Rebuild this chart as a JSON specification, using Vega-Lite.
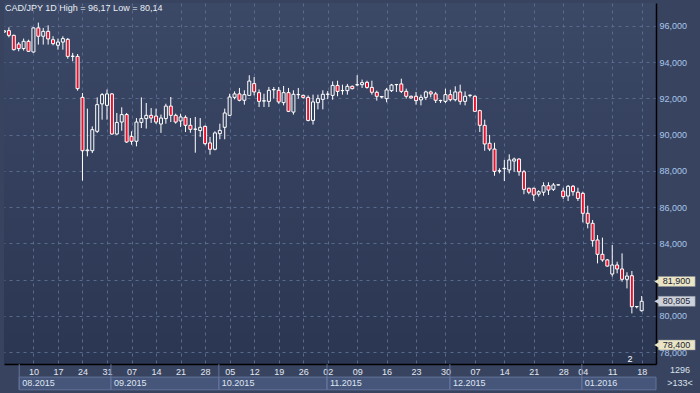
{
  "$schema": "https://vega.github.io/schema/vega-lite/v6.json",
  "width": 652,
  "height": 361,
  "autosize": "none",
  "padding": {"left": 4, "top": 3, "right": 44, "bottom": 29},
  "background": "#38445f",
  "view": {"stroke": null, "fill": {"gradient": "linear", "x1": 0, "y1": 0, "x2": 0, "y2": 1, "stops": [{"offset": 0, "color": "#3b4866"}, {"offset": 1, "color": "#2b3652"}]}},
  "config": {"font": "Liberation Sans", "scale": {"continuousPadding": 0}},
  "datasets": {
    "candles": [
      {"i": -1, "o": 95.65, "c": 95.72, "h": 95.75, "l": 95.62},
      {"i": 0, "o": 95.73, "c": 95.47, "h": 95.91, "l": 95.36},
      {"i": 1, "o": 95.47, "c": 94.68, "h": 95.51, "l": 94.63},
      {"i": 2, "o": 94.99, "c": 94.74, "h": 95.10, "l": 94.59},
      {"i": 3, "o": 94.74, "c": 95.14, "h": 95.29, "l": 94.63},
      {"i": 4, "o": 95.14, "c": 94.59, "h": 95.23, "l": 94.55},
      {"i": 5, "o": 94.55, "c": 95.88, "h": 95.91, "l": 94.52},
      {"i": 6, "o": 95.88, "c": 95.42, "h": 96.17, "l": 94.96},
      {"i": 7, "o": 95.42, "c": 95.69, "h": 95.88, "l": 94.96},
      {"i": 8, "o": 95.69, "c": 95.27, "h": 96.02, "l": 94.96},
      {"i": 9, "o": 95.23, "c": 95.01, "h": 95.42, "l": 94.92},
      {"i": 10, "o": 94.92, "c": 95.10, "h": 95.29, "l": 94.68},
      {"i": 11, "o": 95.10, "c": 95.29, "h": 95.42, "l": 94.68},
      {"i": 12, "o": 95.25, "c": 94.31, "h": 95.32, "l": 94.18},
      {"i": 13, "o": 94.31, "c": 94.32, "h": 94.50, "l": 94.04},
      {"i": 14, "o": 94.31, "c": 92.53, "h": 94.44, "l": 92.42},
      {"i": 15, "o": 92.05, "c": 89.11, "h": 92.29, "l": 87.46},
      {"i": 16, "o": 89.11, "c": 89.15, "h": 91.43, "l": 88.80},
      {"i": 17, "o": 89.11, "c": 90.27, "h": 90.45, "l": 88.98},
      {"i": 18, "o": 90.18, "c": 91.65, "h": 92.05, "l": 90.09},
      {"i": 19, "o": 91.69, "c": 92.20, "h": 92.29, "l": 90.82},
      {"i": 20, "o": 91.61, "c": 92.24, "h": 92.48, "l": 90.82},
      {"i": 21, "o": 92.24, "c": 90.03, "h": 92.29, "l": 89.99},
      {"i": 22, "o": 90.03, "c": 90.67, "h": 91.19, "l": 89.99},
      {"i": 23, "o": 90.69, "c": 91.10, "h": 91.50, "l": 90.21},
      {"i": 24, "o": 91.10, "c": 89.59, "h": 91.19, "l": 89.54},
      {"i": 25, "o": 89.90, "c": 89.63, "h": 90.18, "l": 89.44},
      {"i": 26, "o": 89.63, "c": 90.69, "h": 90.91, "l": 89.35},
      {"i": 27, "o": 90.67, "c": 90.88, "h": 92.05, "l": 90.36},
      {"i": 28, "o": 90.88, "c": 91.06, "h": 91.74, "l": 90.33},
      {"i": 29, "o": 91.06, "c": 90.91, "h": 91.46, "l": 90.64},
      {"i": 30, "o": 91.02, "c": 90.69, "h": 91.43, "l": 90.58},
      {"i": 31, "o": 90.58, "c": 90.91, "h": 91.10, "l": 90.09},
      {"i": 32, "o": 90.88, "c": 91.57, "h": 91.70, "l": 90.60},
      {"i": 33, "o": 91.57, "c": 91.06, "h": 92.07, "l": 90.69},
      {"i": 34, "o": 91.06, "c": 90.69, "h": 91.15, "l": 90.60},
      {"i": 35, "o": 90.75, "c": 90.97, "h": 91.15, "l": 90.42},
      {"i": 36, "o": 90.95, "c": 90.51, "h": 91.06, "l": 90.14},
      {"i": 37, "o": 90.51, "c": 90.29, "h": 90.91, "l": 90.10},
      {"i": 38, "o": 90.29, "c": 90.30, "h": 90.97, "l": 89.00},
      {"i": 39, "o": 90.22, "c": 90.40, "h": 90.91, "l": 89.87},
      {"i": 40, "o": 90.45, "c": 89.50, "h": 90.51, "l": 89.41},
      {"i": 41, "o": 89.54, "c": 89.19, "h": 89.87, "l": 88.89},
      {"i": 42, "o": 89.19, "c": 90.09, "h": 90.18, "l": 89.13},
      {"i": 43, "o": 90.05, "c": 90.23, "h": 90.60, "l": 89.74},
      {"i": 44, "o": 90.40, "c": 91.19, "h": 91.43, "l": 89.74},
      {"i": 45, "o": 91.06, "c": 92.07, "h": 92.25, "l": 91.02},
      {"i": 46, "o": 92.05, "c": 92.24, "h": 92.38, "l": 91.94},
      {"i": 47, "o": 92.24, "c": 91.89, "h": 92.57, "l": 91.83},
      {"i": 48, "o": 91.89, "c": 92.20, "h": 92.44, "l": 91.65},
      {"i": 49, "o": 92.16, "c": 92.95, "h": 93.27, "l": 92.16},
      {"i": 50, "o": 92.81, "c": 92.35, "h": 93.17, "l": 92.16},
      {"i": 51, "o": 92.31, "c": 91.83, "h": 92.49, "l": 91.52},
      {"i": 52, "o": 91.85, "c": 91.86, "h": 92.25, "l": 91.52},
      {"i": 53, "o": 91.83, "c": 92.44, "h": 92.62, "l": 91.52},
      {"i": 54, "o": 92.47, "c": 92.48, "h": 92.62, "l": 91.98},
      {"i": 55, "o": 92.44, "c": 91.80, "h": 92.62, "l": 91.70},
      {"i": 56, "o": 91.76, "c": 92.31, "h": 92.68, "l": 91.61},
      {"i": 57, "o": 92.31, "c": 91.28, "h": 92.57, "l": 91.24},
      {"i": 58, "o": 91.24, "c": 92.22, "h": 92.44, "l": 91.10},
      {"i": 59, "o": 92.20, "c": 92.21, "h": 92.57, "l": 91.98},
      {"i": 60, "o": 92.16, "c": 92.05, "h": 92.20, "l": 91.98},
      {"i": 61, "o": 92.05, "c": 90.78, "h": 92.16, "l": 90.73},
      {"i": 62, "o": 90.78, "c": 91.80, "h": 92.20, "l": 90.55},
      {"i": 63, "o": 91.76, "c": 91.98, "h": 92.20, "l": 91.39},
      {"i": 64, "o": 91.94, "c": 92.22, "h": 92.44, "l": 91.39},
      {"i": 65, "o": 92.22, "c": 92.23, "h": 92.40, "l": 91.95},
      {"i": 66, "o": 92.16, "c": 92.71, "h": 92.93, "l": 91.92},
      {"i": 67, "o": 92.71, "c": 92.38, "h": 92.97, "l": 92.11},
      {"i": 68, "o": 92.42, "c": 92.43, "h": 92.75, "l": 92.20},
      {"i": 69, "o": 92.42, "c": 92.66, "h": 92.79, "l": 92.20},
      {"i": 70, "o": 92.66, "c": 92.53, "h": 92.70, "l": 92.49},
      {"i": 71, "o": 92.74, "c": 92.75, "h": 93.27, "l": 92.66},
      {"i": 72, "o": 92.75, "c": 92.86, "h": 93.03, "l": 92.57},
      {"i": 73, "o": 92.88, "c": 92.60, "h": 92.97, "l": 92.53},
      {"i": 74, "o": 92.60, "c": 92.33, "h": 92.97, "l": 92.20},
      {"i": 75, "o": 92.33, "c": 92.11, "h": 92.42, "l": 91.87},
      {"i": 76, "o": 92.07, "c": 92.10, "h": 92.11, "l": 92.00},
      {"i": 77, "o": 91.98, "c": 92.46, "h": 92.57, "l": 91.78},
      {"i": 78, "o": 92.42, "c": 92.73, "h": 92.79, "l": 92.35},
      {"i": 79, "o": 92.75, "c": 92.76, "h": 92.79, "l": 92.35},
      {"i": 80, "o": 92.79, "c": 92.38, "h": 93.08, "l": 92.29},
      {"i": 81, "o": 92.38, "c": 92.11, "h": 92.53, "l": 91.98},
      {"i": 82, "o": 92.11, "c": 92.02, "h": 92.15, "l": 91.98},
      {"i": 83, "o": 92.11, "c": 91.87, "h": 92.35, "l": 91.65},
      {"i": 84, "o": 91.91, "c": 92.05, "h": 92.20, "l": 91.61},
      {"i": 85, "o": 92.05, "c": 92.35, "h": 92.42, "l": 91.91},
      {"i": 86, "o": 92.35, "c": 92.24, "h": 92.42, "l": 92.05},
      {"i": 87, "o": 92.24, "c": 91.89, "h": 92.35, "l": 91.74},
      {"i": 88, "o": 91.87, "c": 91.88, "h": 91.92, "l": 91.74},
      {"i": 89, "o": 91.83, "c": 92.20, "h": 92.53, "l": 91.74},
      {"i": 90, "o": 92.20, "c": 91.92, "h": 92.47, "l": 91.83},
      {"i": 91, "o": 91.92, "c": 92.35, "h": 92.66, "l": 91.83},
      {"i": 92, "o": 92.35, "c": 91.83, "h": 92.75, "l": 91.65},
      {"i": 93, "o": 91.83, "c": 92.11, "h": 92.38, "l": 91.61},
      {"i": 94, "o": 92.16, "c": 92.17, "h": 92.20, "l": 92.05},
      {"i": 95, "o": 92.11, "c": 91.28, "h": 92.16, "l": 91.28},
      {"i": 96, "o": 91.32, "c": 90.51, "h": 91.37, "l": 90.14},
      {"i": 97, "o": 90.51, "c": 89.48, "h": 90.82, "l": 89.11},
      {"i": 98, "o": 89.52, "c": 89.20, "h": 89.98, "l": 89.09},
      {"i": 99, "o": 89.20, "c": 87.97, "h": 89.55, "l": 87.73},
      {"i": 100, "o": 87.99, "c": 88.00, "h": 88.14, "l": 87.86},
      {"i": 101, "o": 88.12, "c": 88.14, "h": 88.60, "l": 87.44},
      {"i": 102, "o": 88.05, "c": 88.60, "h": 88.91, "l": 87.86},
      {"i": 103, "o": 88.54, "c": 88.65, "h": 88.73, "l": 87.95},
      {"i": 104, "o": 88.65, "c": 87.95, "h": 88.69, "l": 87.73},
      {"i": 105, "o": 87.95, "c": 86.98, "h": 88.05, "l": 86.71},
      {"i": 106, "o": 87.04, "c": 86.82, "h": 87.07, "l": 86.71},
      {"i": 107, "o": 87.04, "c": 86.67, "h": 87.07, "l": 86.34},
      {"i": 108, "o": 86.71, "c": 86.85, "h": 86.93, "l": 86.58},
      {"i": 109, "o": 86.82, "c": 87.18, "h": 87.37, "l": 86.63},
      {"i": 110, "o": 87.18, "c": 86.94, "h": 87.37, "l": 86.67},
      {"i": 111, "o": 86.98, "c": 87.22, "h": 87.33, "l": 86.89},
      {"i": 112, "o": 87.22, "c": 87.23, "h": 87.24, "l": 87.20},
      {"i": 113, "o": 86.89, "c": 86.58, "h": 87.07, "l": 86.45},
      {"i": 114, "o": 86.61, "c": 87.15, "h": 87.22, "l": 86.34},
      {"i": 115, "o": 87.15, "c": 86.85, "h": 87.22, "l": 86.63},
      {"i": 116, "o": 86.82, "c": 86.48, "h": 87.07, "l": 86.34},
      {"i": 117, "o": 86.76, "c": 85.66, "h": 86.85, "l": 85.16},
      {"i": 118, "o": 85.66, "c": 85.11, "h": 86.08, "l": 84.83},
      {"i": 119, "o": 85.11, "c": 84.15, "h": 85.29, "l": 83.82},
      {"i": 120, "o": 84.19, "c": 83.40, "h": 84.46, "l": 82.90},
      {"i": 121, "o": 83.40, "c": 83.09, "h": 84.32, "l": 82.99},
      {"i": 122, "o": 83.09, "c": 82.75, "h": 83.14, "l": 82.72},
      {"i": 123, "o": 82.31, "c": 82.81, "h": 83.91, "l": 82.17},
      {"i": 124, "o": 82.81, "c": 82.59, "h": 82.99, "l": 82.35},
      {"i": 125, "o": 82.59, "c": 82.02, "h": 83.45, "l": 81.89},
      {"i": 126, "o": 82.02, "c": 82.20, "h": 82.41, "l": 81.52},
      {"i": 127, "o": 82.22, "c": 80.51, "h": 82.48, "l": 80.14},
      {"i": 128, "o": 80.51, "c": 80.52, "h": 80.55, "l": 80.42},
      {"i": 129, "o": 80.29, "c": 80.81, "h": 81.10, "l": 80.24}
    ],
    "months": [
      {"m": "08.2015", "s": 2.1, "e": 20.8},
      {"m": "09.2015", "s": 20.8, "e": 42.8},
      {"m": "10.2015", "s": 42.8, "e": 64.85},
      {"m": "11.2015", "s": 64.85, "e": 89.9},
      {"m": "12.2015", "s": 89.9, "e": 116.8},
      {"m": "01.2016", "s": 116.8, "e": 131.92}
    ],
    "tags": [
      {"p": 81.9, "t": "81,900", "k": "level"},
      {"p": 80.805, "t": "80,805", "k": "last"},
      {"p": 78.4, "t": "78,400", "k": "target"}
    ]
  },
  "layer": [
    {
      "data": {"name": "candles"},
      "mark": {"type": "rule", "color": "#ffffff", "strokeWidth": 1, "clip": true},
      "encoding": {
        "x": {"field": "i", "type": "quantitative", "scale": {"domain": [-1, 131.92], "nice": false, "zero": false, "padding": 0},
          "axis": {"values": [5, 10, 15, 20, 25, 30, 35, 40, 45, 50, 55, 60, 65, 71, 77, 83, 89, 95, 101, 107, 113, 117, 123, 129], "tickCount": 40,
            "labelExpr": "['10','17','24','31','07','14','21','28','05','12','19','26','02','09','16','23','30','07','14','21','28','04','11','18'][indexof([5,10,15,20,25,30,35,40,45,50,55,60,65,71,77,83,89,95,101,107,113,117,123,129], datum.value)]",
            "title": null, "ticks": false, "tickSize": 0, "labelPadding": 3, "labelBaseline": "top", "labelFontSize": 9, "labelFont": "Liberation Sans", "labelColor": "#e2e8f2", "labelFlush": false, "labelOverlap": false,
            "domain": true, "domainColor": "#000000", "domainWidth": 1.5,
            "grid": true, "gridColor": "#5a6a8c", "gridDash": [3, 4], "gridWidth": 1}},
        "y": {"field": "l", "type": "quantitative", "scale": {"domain": [77.352, 97.2525], "nice": false, "zero": false, "padding": 0},
          "axis": {"orient": "right", "values": [78, 80, 82, 84, 86, 88, 90, 92, 94, 96], "tickCount": 30,
            "labelExpr": "datum.value == 82 ? '' : replace(format(datum.value, '.3f'), '.', ',')",
            "title": null, "ticks": false, "tickSize": 0, "labelPadding": 3, "labelFontSize": 9, "labelFont": "Liberation Sans", "labelColor": "#a9c6ec", "labelAlign": "left", "labelBaseline": "middle", "labelOverlap": false,
            "domain": true, "domainColor": "#000000", "domainWidth": 1.5,
            "grid": true, "gridColor": "#5a6a8c", "gridDash": [3, 4], "gridWidth": 1}},
        "y2": {"field": "h"}
      }
    },
    {
      "data": {"name": "candles"},
      "mark": {"type": "bar", "width": 3, "stroke": "#ffffff", "strokeWidth": 1, "clip": true},
      "encoding": {
        "x": {"field": "i", "type": "quantitative", "title": null, "scale": {"domain": [-1, 131.92], "nice": false, "zero": false, "padding": 0}},
        "y": {"field": "o", "type": "quantitative", "title": null, "scale": {"domain": [77.352, 97.2525], "nice": false, "zero": false, "padding": 0}},
        "y2": {"field": "c"},
        "fill": {"condition": {"test": "datum.c < datum.o", "value": "#e6112d"}, "value": "#37445f"}
      }
    },
    {
      "data": {"values": [{"t": "CAD/JPY 1D High = 96,17 Low = 80,14"}]},
      "mark": {"type": "text", "align": "left", "baseline": "middle", "fontSize": 9, "font": "Liberation Sans", "color": "#e8edf4", "clip": false},
      "encoding": {"x": {"datum": -0.8, "type": "quantitative", "title": null, "scale": {"domain": [-1, 131.92], "nice": false, "zero": false, "padding": 0}}, "y": {"datum": 96.97, "type": "quantitative", "title": null, "scale": {"domain": [77.352, 97.2525], "nice": false, "zero": false, "padding": 0}}, "text": {"field": "t"}}
    },
    {
      "mark": {"type": "rule", "color": "#d0121e", "strokeWidth": 2, "clip": false},
      "encoding": {"x": {"datum": 127.2, "type": "quantitative", "title": null, "scale": {"domain": [-1, 131.92], "nice": false, "zero": false, "padding": 0}}, "x2": {"datum": 131.92}, "y": {"datum": 81.9, "type": "quantitative", "title": null, "scale": {"domain": [77.352, 97.2525], "nice": false, "zero": false, "padding": 0}}}
    },
    {
      "mark": {"type": "rule", "color": "#1e9fe6", "strokeWidth": 1.5, "clip": false},
      "encoding": {"x": {"datum": 127.0, "type": "quantitative", "title": null, "scale": {"domain": [-1, 131.92], "nice": false, "zero": false, "padding": 0}}, "x2": {"datum": 131.92}, "y": {"datum": 78.4, "type": "quantitative", "title": null, "scale": {"domain": [77.352, 97.2525], "nice": false, "zero": false, "padding": 0}}}
    },
    {
      "data": {"name": "months"},
      "mark": {"type": "rect", "fill": "#46557a", "stroke": "#62729a", "strokeWidth": 1, "clip": false},
      "encoding": {"x": {"field": "s", "type": "quantitative", "title": null, "scale": {"domain": [-1, 131.92], "nice": false, "zero": false, "padding": 0}}, "x2": {"field": "e"}, "y": {"datum": 76.63, "type": "quantitative", "title": null, "scale": {"domain": [77.352, 97.2525], "nice": false, "zero": false, "padding": 0}}, "y2": {"datum": 75.93}}
    },
    {
      "data": {"name": "months"},
      "mark": {"type": "rule", "color": "#62729a", "strokeWidth": 1, "clip": false},
      "encoding": {"x": {"field": "s", "type": "quantitative", "title": null, "scale": {"domain": [-1, 131.92], "nice": false, "zero": false, "padding": 0}}, "y": {"datum": 77.35, "type": "quantitative", "title": null, "scale": {"domain": [77.352, 97.2525], "nice": false, "zero": false, "padding": 0}}, "y2": {"datum": 75.93}}
    },
    {
      "data": {"name": "months"},
      "mark": {"type": "text", "align": "left", "baseline": "middle", "dx": 3, "fontSize": 9, "font": "Liberation Sans", "color": "#dfe6f2", "clip": false},
      "encoding": {"x": {"field": "s", "type": "quantitative", "title": null, "scale": {"domain": [-1, 131.92], "nice": false, "zero": false, "padding": 0}}, "y": {"datum": 76.28, "type": "quantitative", "title": null, "scale": {"domain": [77.352, 97.2525], "nice": false, "zero": false, "padding": 0}}, "text": {"field": "m"}}
    },
    {
      "mark": {"type": "rect", "fill": "#141c33", "opacity": 0.5, "clip": false},
      "encoding": {"x": {"datum": 117.9, "type": "quantitative", "title": null, "scale": {"domain": [-1, 131.92], "nice": false, "zero": false, "padding": 0}}, "x2": {"datum": 131.92}, "y": {"datum": 77.33, "type": "quantitative", "title": null, "scale": {"domain": [77.352, 97.2525], "nice": false, "zero": false, "padding": 0}}, "y2": {"datum": 75.93}}
    },
    {
      "mark": {"type": "rule", "color": "#000000", "strokeWidth": 1.5, "clip": false},
      "encoding": {"x": {"datum": 131.92, "type": "quantitative", "title": null, "scale": {"domain": [-1, 131.92], "nice": false, "zero": false, "padding": 0}}, "y": {"datum": 77.352, "type": "quantitative", "title": null, "scale": {"domain": [77.352, 97.2525], "nice": false, "zero": false, "padding": 0}}, "y2": {"datum": 75.6}}
    },
    {
      "data": {"name": "tags"},
      "mark": {"type": "bar", "size": 10, "clip": false, "stroke": "#8a8f99", "strokeWidth": 0.5},
      "encoding": {
        "x": {"datum": 132.4, "type": "quantitative", "title": null, "scale": {"domain": [-1, 131.92], "nice": false, "zero": false, "padding": 0}}, "x2": {"datum": 139.9},
        "y": {"field": "p", "type": "quantitative", "title": null, "scale": {"domain": [77.352, 97.2525], "nice": false, "zero": false, "padding": 0}},
        "fill": {"field": "k", "type": "nominal", "legend": null, "scale": {"domain": ["level", "last", "target"], "range": ["#e9e5c5", "#cdd1db", "#e9e5c5"]}}
      }
    },
    {
      "data": {"name": "tags"},
      "mark": {"type": "point", "shape": "triangle-left", "size": 28, "filled": true, "opacity": 1, "clip": false},
      "encoding": {
        "x": {"datum": 132.05, "type": "quantitative", "title": null, "scale": {"domain": [-1, 131.92], "nice": false, "zero": false, "padding": 0}},
        "y": {"field": "p", "type": "quantitative", "title": null, "scale": {"domain": [77.352, 97.2525], "nice": false, "zero": false, "padding": 0}},
        "fill": {"field": "k", "type": "nominal", "legend": null}
      }
    },
    {
      "data": {"name": "tags"},
      "mark": {"type": "text", "align": "left", "baseline": "middle", "fontSize": 9, "font": "Liberation Sans", "color": "#1c2333", "dx": 2, "clip": false},
      "encoding": {
        "x": {"datum": 132.9, "type": "quantitative", "title": null, "scale": {"domain": [-1, 131.92], "nice": false, "zero": false, "padding": 0}},
        "y": {"field": "p", "type": "quantitative", "title": null, "scale": {"domain": [77.352, 97.2525], "nice": false, "zero": false, "padding": 0}},
        "text": {"field": "t"}
      }
    },
    {
      "data": {"values": [{"t": "2"}]},
      "mark": {"type": "text", "align": "center", "baseline": "middle", "fontSize": 9, "font": "Liberation Sans", "color": "#ffffff", "clip": false},
      "encoding": {"x": {"datum": 126.6, "type": "quantitative", "title": null, "scale": {"domain": [-1, 131.92], "nice": false, "zero": false, "padding": 0}}, "y": {"datum": 77.65, "type": "quantitative", "title": null, "scale": {"domain": [77.352, 97.2525], "nice": false, "zero": false, "padding": 0}}, "text": {"field": "t"}}
    },
    {
      "data": {"values": [{"t": "1296"}]},
      "mark": {"type": "text", "align": "center", "baseline": "middle", "fontSize": 9, "font": "Liberation Sans", "color": "#d8e0ec", "clip": false},
      "encoding": {"x": {"datum": 136.8, "type": "quantitative", "title": null, "scale": {"domain": [-1, 131.92], "nice": false, "zero": false, "padding": 0}}, "y": {"datum": 77.02, "type": "quantitative", "title": null, "scale": {"domain": [77.352, 97.2525], "nice": false, "zero": false, "padding": 0}}, "text": {"field": "t"}}
    },
    {
      "mark": {"type": "rule", "color": "#8a98b8", "strokeWidth": 1, "clip": false},
      "encoding": {"x": {"datum": 134.4, "type": "quantitative", "title": null, "scale": {"domain": [-1, 131.92], "nice": false, "zero": false, "padding": 0}}, "x2": {"datum": 138.9}, "y": {"datum": 76.7, "type": "quantitative", "title": null, "scale": {"domain": [77.352, 97.2525], "nice": false, "zero": false, "padding": 0}}}
    },
    {
      "data": {"values": [{"t": ">133<"}]},
      "mark": {"type": "text", "align": "center", "baseline": "middle", "fontSize": 9, "font": "Liberation Sans", "color": "#d8e0ec", "clip": false},
      "encoding": {"x": {"datum": 136.8, "type": "quantitative", "title": null, "scale": {"domain": [-1, 131.92], "nice": false, "zero": false, "padding": 0}}, "y": {"datum": 76.33, "type": "quantitative", "title": null, "scale": {"domain": [77.352, 97.2525], "nice": false, "zero": false, "padding": 0}}, "text": {"field": "t"}}
    },
    {
      "mark": {"type": "rect", "fill": null, "filled": false, "stroke": "#b9c1cc", "strokeWidth": 3, "clip": false},
      "encoding": {"x": {"datum": -1.51, "type": "quantitative", "title": null, "scale": {"domain": [-1, 131.92], "nice": false, "zero": false, "padding": 0}}, "x2": {"datum": 140.59}, "y": {"datum": 97.5, "type": "quantitative", "title": null, "scale": {"domain": [77.352, 97.2525], "nice": false, "zero": false, "padding": 0}}, "y2": {"datum": 75.836}}
    }
  ]
}
